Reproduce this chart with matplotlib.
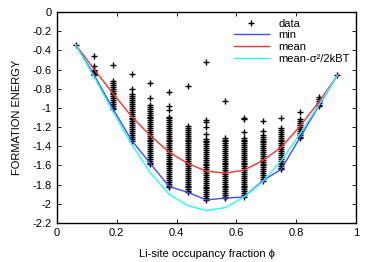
import matplotlib
matplotlib.use("Agg")
import matplotlib.pyplot as plt

phi = [0.0625, 0.125, 0.1875, 0.25, 0.3125, 0.375, 0.4375, 0.5,
       0.5625, 0.625, 0.6875, 0.75, 0.8125, 0.875, 0.9375]

e_min = [-0.34, -0.66, -1.01, -1.34, -1.58, -1.82, -1.88, -1.96,
         -1.94, -1.93, -1.76, -1.64, -1.31, -0.98, -0.66]
e_mean = [-0.34, -0.60, -0.85, -1.09, -1.29, -1.46, -1.58, -1.66,
          -1.68, -1.65, -1.55, -1.41, -1.19, -0.94, -0.66]
e_corr = [-0.34, -0.68, -1.04, -1.38, -1.68, -1.90, -2.02, -2.07,
          -2.04, -1.93, -1.77, -1.55, -1.27, -0.97, -0.66]

data_cols = [
    [-0.34],
    [-0.46, -0.56, -0.60, -0.62, -0.63, -0.64, -0.65, -0.66],
    [-0.55, -0.72, -0.74, -0.76, -0.78, -0.80, -0.82, -0.84, -0.86, -0.88,
     -0.90, -0.92, -0.94, -0.96, -0.98, -1.00, -1.01],
    [-0.65, -0.80, -0.86, -0.88, -0.90, -0.92, -0.94, -0.96, -0.98, -1.00,
     -1.02, -1.04, -1.06, -1.08, -1.10, -1.12, -1.14, -1.16, -1.18, -1.20,
     -1.22, -1.24, -1.26, -1.28, -1.30, -1.32, -1.34],
    [-0.74, -0.90, -0.97, -0.99, -1.01, -1.03, -1.05, -1.07, -1.09, -1.11,
     -1.13, -1.15, -1.17, -1.19, -1.21, -1.23, -1.25, -1.27, -1.29, -1.31,
     -1.33, -1.35, -1.37, -1.39, -1.41, -1.43, -1.45, -1.47, -1.49, -1.51,
     -1.53, -1.55, -1.57, -1.58],
    [-0.83, -0.98, -1.02, -1.09, -1.11, -1.13, -1.15, -1.17, -1.19, -1.21,
     -1.23, -1.25, -1.27, -1.29, -1.31, -1.33, -1.35, -1.37, -1.39, -1.41,
     -1.43, -1.45, -1.47, -1.49, -1.51, -1.53, -1.55, -1.57, -1.59, -1.61,
     -1.63, -1.65, -1.67, -1.69, -1.71, -1.73, -1.75, -1.77, -1.79, -1.81,
     -1.82],
    [-0.77, -1.19, -1.21, -1.23, -1.25, -1.27, -1.29, -1.31, -1.33, -1.35,
     -1.37, -1.39, -1.41, -1.43, -1.45, -1.47, -1.49, -1.51, -1.53, -1.55,
     -1.57, -1.59, -1.61, -1.63, -1.65, -1.67, -1.69, -1.71, -1.73, -1.75,
     -1.77, -1.79, -1.81, -1.83, -1.85, -1.87, -1.88],
    [-0.52, -1.13, -1.15, -1.20, -1.27, -1.32, -1.34, -1.36, -1.38, -1.40,
     -1.42, -1.44, -1.46, -1.48, -1.50, -1.52, -1.54, -1.56, -1.58, -1.60,
     -1.62, -1.64, -1.66, -1.68, -1.70, -1.72, -1.74, -1.76, -1.78, -1.80,
     -1.82, -1.84, -1.86, -1.88, -1.90, -1.92, -1.94, -1.96],
    [-0.93, -1.31, -1.33, -1.35, -1.37, -1.39, -1.41, -1.43, -1.45, -1.47,
     -1.49, -1.51, -1.53, -1.55, -1.57, -1.59, -1.61, -1.63, -1.65, -1.67,
     -1.69, -1.71, -1.73, -1.75, -1.77, -1.79, -1.81, -1.83, -1.85, -1.87,
     -1.89, -1.91, -1.93, -1.94],
    [-1.10, -1.12, -1.25, -1.31, -1.33, -1.35, -1.37, -1.39, -1.41, -1.43,
     -1.45, -1.47, -1.49, -1.51, -1.53, -1.55, -1.57, -1.59, -1.61, -1.63,
     -1.65, -1.67, -1.69, -1.71, -1.73, -1.75, -1.77, -1.79, -1.81, -1.83,
     -1.85, -1.87, -1.89, -1.91, -1.93],
    [-1.14, -1.24, -1.28, -1.30, -1.32, -1.34, -1.36, -1.38, -1.40, -1.42,
     -1.44, -1.46, -1.48, -1.50, -1.52, -1.54, -1.56, -1.58, -1.60, -1.62,
     -1.64, -1.66, -1.68, -1.70, -1.72, -1.74, -1.76],
    [-1.11, -1.21, -1.23, -1.25, -1.27, -1.29, -1.31, -1.33, -1.35, -1.37,
     -1.39, -1.41, -1.43, -1.45, -1.47, -1.49, -1.51, -1.53, -1.55, -1.57,
     -1.59, -1.61, -1.63, -1.64],
    [-1.04, -1.12, -1.14, -1.16, -1.18, -1.20, -1.22, -1.24, -1.26, -1.28,
     -1.30, -1.31],
    [-0.89, -0.91, -0.93, -0.95, -0.97, -0.98],
    [-0.66],
]

xticks = [0, 0.2, 0.4, 0.6, 0.8, 1]
yticks = [0, -0.2, -0.4, -0.6, -0.8, -1, -1.2, -1.4, -1.6, -1.8, -2, -2.2]

plt.rcParams['font.family'] = ['Liberation Sans', 'DejaVu Sans']

fig = plt.figure(figsize=(3.74, 2.62), dpi=100)
ax = fig.add_axes([0.152, 0.149, 0.800, 0.805])

dx, dy = [], []
for x, col in zip(phi, data_cols):
    for v in col:
        dx.append(x)
        dy.append(v)

ax.plot(dx, dy, linestyle='none', marker='+', color='black',
        markersize=4.5, markeredgewidth=1.0, label='data')
ax.plot(phi, e_min, color='#4848ff', lw=1.0, label='min')
ax.plot(phi, e_mean, color='#ff3030', lw=1.0, label='mean')
ax.plot(phi, e_corr, color='#20ffff', lw=1.0, label='mean-σ²/2kBT')

ax.set_xlim(0, 1)
ax.set_ylim(-2.2, 0)
ax.set_xticks(xticks)
ax.set_xticklabels([f"{t:g}" for t in xticks])
ax.set_yticks(yticks)
ax.set_yticklabels([f"{t:g}" for t in yticks])
ax.tick_params(direction='in', top=True, right=True, labelsize=8,
               length=3, width=0.6)
for s in ax.spines.values():
    s.set_linewidth(1.0)

ax.set_xlabel('Li-site occupancy fraction ϕ', fontsize=8, labelpad=8)
ax.set_ylabel('FORMATION ENERGY', fontsize=8, labelpad=8)

leg = ax.legend(loc='upper right', frameon=False, fontsize=8,
                handlelength=3.2, handletextpad=0.8, labelspacing=0.15,
                borderaxespad=0.2, markerfirst=True)

fig.savefig('out.png', dpi=100)
